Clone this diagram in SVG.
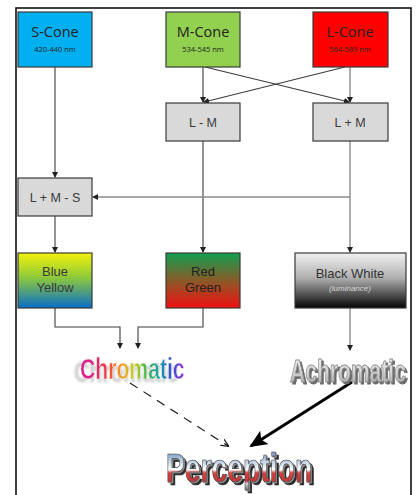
<svg xmlns="http://www.w3.org/2000/svg" width="416" height="495" viewBox="0 0 416 495">
<style>
.box{stroke:#3a3a3a;stroke-width:1.2}
.cone{font-family:"Open Sans","Noto Sans",sans-serif;font-size:14.5px;fill:#222;text-anchor:middle}
.nm{font-family:"Open Sans","Noto Sans",sans-serif;font-size:7.5px;fill:#222;text-anchor:middle}
.lbl{font-family:"Liberation Sans",Arial,sans-serif;font-size:12.5px;fill:#3a3a3a;text-anchor:middle}
.ln{fill:none;stroke:#3c3c3c;stroke-width:1.1}
.lg{fill:none;stroke:#8a8a8a;stroke-width:1.4}
.big{font-family:"Liberation Sans",Arial,sans-serif;font-weight:bold}
</style>
<defs>
<marker id="ah" markerWidth="6" markerHeight="6" refX="5" refY="3" orient="auto" markerUnits="userSpaceOnUse"><path d="M0,0 L6,3 L0,6 z" fill="#222"/></marker>
<marker id="ahd" markerWidth="8" markerHeight="8" refX="7" refY="4" orient="auto" markerUnits="userSpaceOnUse"><path d="M0,0.5 L8,4 L0,7.5" fill="none" stroke="#111" stroke-width="1.2"/></marker>
<marker id="aht" markerWidth="18" markerHeight="16" refX="16" refY="8" orient="auto" markerUnits="userSpaceOnUse"><path d="M0,0 L18,8 L0,16 L4,8 z" fill="#000"/></marker>
<linearGradient id="gBY" x1="0" y1="0" x2="0" y2="1"><stop offset="0" stop-color="#f2f20a"/><stop offset="0.45" stop-color="#8cc83c"/><stop offset="1" stop-color="#0a6ec8"/></linearGradient>
<linearGradient id="gRG" x1="0" y1="0" x2="0" y2="1"><stop offset="0" stop-color="#10a050"/><stop offset="0.5" stop-color="#8a5a28"/><stop offset="1" stop-color="#f01010"/></linearGradient>
<linearGradient id="gBW" x1="0" y1="0" x2="0" y2="1"><stop offset="0" stop-color="#f2f2f2"/><stop offset="0.45" stop-color="#b0b0b0"/><stop offset="1" stop-color="#050505"/></linearGradient>
<linearGradient id="gAch" x1="0" y1="0" x2="0" y2="1"><stop offset="0" stop-color="#f4f4f4"/><stop offset="0.5" stop-color="#d8d8d8"/><stop offset="1" stop-color="#9a9a9a"/></linearGradient>
<linearGradient id="gChr" x1="0" y1="0" x2="1" y2="0">
<stop offset="0" stop-color="#d81e9a"/><stop offset="0.14" stop-color="#e0247a"/><stop offset="0.26" stop-color="#ee3b3b"/><stop offset="0.38" stop-color="#f7941d"/><stop offset="0.52" stop-color="#c8d21e"/><stop offset="0.64" stop-color="#3cb44a"/><stop offset="0.76" stop-color="#1aa3a3"/><stop offset="0.86" stop-color="#2d55d8"/><stop offset="1" stop-color="#9a2bd8"/>
</linearGradient>
<linearGradient id="gPer" x1="0" y1="0" x2="0" y2="1"><stop offset="0" stop-color="#3e64a8"/><stop offset="0.3" stop-color="#a9bfdc"/><stop offset="0.55" stop-color="#ffffff"/><stop offset="0.62" stop-color="#d84040"/><stop offset="0.8" stop-color="#c03838"/><stop offset="0.85" stop-color="#d0d0d0"/><stop offset="1" stop-color="#707070"/></linearGradient>
<filter id="fChr" x="-20%" y="-20%" width="140%" height="160%">
<feOffset in="SourceAlpha" dx="-6" dy="3" result="o"/>
<feGaussianBlur in="o" stdDeviation="0.8" result="b"/>
<feFlood flood-color="#d0d0d0"/>
<feComposite in2="b" operator="in" result="s"/>
<feMerge><feMergeNode in="s"/><feMergeNode in="SourceGraphic"/></feMerge>
</filter>
<filter id="fAch" x="-10%" y="-20%" width="120%" height="150%">
<feOffset in="SourceAlpha" dx="1.5" dy="1.5" result="o"/>
<feFlood flood-color="#6a6a6a"/>
<feComposite in2="o" operator="in" result="s"/>
<feMerge><feMergeNode in="s"/><feMergeNode in="SourceGraphic"/></feMerge>
</filter>
<filter id="fPer" x="-10%" y="-20%" width="120%" height="150%">
<feOffset in="SourceAlpha" dx="2.5" dy="2.5" result="o2"/>
<feFlood flood-color="#2a2a2a"/>
<feComposite in2="o2" operator="in" result="s2"/>
<feOffset in="SourceAlpha" dx="1.2" dy="1.2" result="o1"/>
<feFlood flood-color="#909090"/>
<feComposite in2="o1" operator="in" result="s1"/>
<feMerge><feMergeNode in="s2"/><feMergeNode in="s1"/><feMergeNode in="SourceGraphic"/></feMerge>
</filter>
</defs>
<rect x="16" y="8" width="395" height="495" fill="#fff" stroke="#111" stroke-width="1.6"/>

<g id="connectors">
<line class="ln" x1="55" y1="67" x2="55" y2="177" marker-end="url(#ah)"/>
<line class="ln" x1="203" y1="67" x2="203" y2="102" marker-end="url(#ah)"/>
<line class="ln" x1="205" y1="67" x2="349" y2="102" marker-end="url(#ah)"/>
<line class="ln" x1="345" y1="67" x2="204" y2="102" marker-end="url(#ah)"/>
<line class="lg" x1="350" y1="67" x2="350" y2="102" marker-end="url(#ah)"/>
<line class="ln" x1="203" y1="141" x2="203" y2="252" marker-end="url(#ah)"/>
<line class="lg" x1="350" y1="141" x2="350" y2="252" marker-end="url(#ah)"/>
<line class="lg" x1="350" y1="197" x2="93" y2="197" marker-end="url(#ah)"/>
<line class="ln" x1="55" y1="216" x2="55" y2="252" marker-end="url(#ah)"/>
<polyline class="ln" points="55,308 55,327 120,327 120,348" marker-end="url(#ah)"/>
<polyline class="ln" points="203,308 203,327 138,327 138,348" marker-end="url(#ah)"/>
<line class="lg" x1="350" y1="308" x2="350" y2="350" marker-end="url(#ah)"/>
<line x1="130" y1="383" x2="228" y2="446" stroke="#111" stroke-width="1.1" stroke-dasharray="9,7" marker-end="url(#ahd)"/>
<line x1="352" y1="382" x2="251" y2="446" stroke="#000" stroke-width="3" marker-end="url(#aht)"/>
</g>

<g id="s-cone"><rect class="box" x="18" y="12" width="74" height="55" fill="#00b0f0"/><text class="cone" x="55" y="37">S-Cone</text><text class="nm" x="55" y="52">420-440 nm</text></g>
<g id="m-cone"><rect class="box" x="166" y="12" width="74" height="55" fill="#92d050"/><text class="cone" x="203" y="37">M-Cone</text><text class="nm" x="203" y="52">534-545 nm</text></g>
<g id="l-cone"><rect class="box" x="313" y="12" width="75" height="55" fill="#ff0000"/><text class="cone" x="350" y="37">L-Cone</text><text class="nm" x="350" y="52">564-589 nm</text></g>

<g id="l-minus-m"><rect class="box" x="166" y="103" width="74" height="38" fill="#d9d9d9"/><text class="lbl" x="203" y="127">L - M</text></g>
<g id="l-plus-m"><rect class="box" x="313" y="103" width="75" height="38" fill="#d9d9d9"/><text class="lbl" x="350" y="127">L + M</text></g>
<g id="l-plus-m-minus-s"><rect class="box" x="18" y="178" width="74" height="38" fill="#d9d9d9"/><text class="lbl" x="55" y="202">L + M - S</text></g>

<g id="blue-yellow"><rect class="box" x="18" y="253" width="74" height="55" fill="url(#gBY)"/><text class="lbl" x="55" y="276" style="font-size:13px">Blue</text><text class="lbl" x="55" y="292" style="font-size:13px">Yellow</text></g>
<g id="red-green"><rect class="box" x="166" y="253" width="74" height="55" fill="url(#gRG)"/><text class="lbl" x="203" y="276" style="fill:#222;font-size:13px">Red</text><text class="lbl" x="203" y="292" style="fill:#222;font-size:13px">Green</text></g>
<g id="black-white"><rect class="box" x="295" y="253" width="111" height="55" fill="url(#gBW)"/><text class="lbl" x="350" y="278" style="fill:#333;font-size:13px">Black White</text><text x="350" y="291" text-anchor="middle" font-family="Liberation Sans, Arial, sans-serif" font-size="8" font-style="italic" fill="#d8d8d8">(luminance)</text></g>

<g id="chromatic" filter="url(#fChr)">
<text class="big" transform="translate(80,379) scale(0.73,1)" x="0" y="0" font-size="29" fill="url(#gChr)" stroke="#eeeeee" stroke-width="0.6">Chromatic</text>
</g>

<g id="achromatic" filter="url(#fAch)">
<text class="big" transform="translate(290,382) scale(0.68,1)" x="0" y="0" font-size="31" fill="url(#gAch)" stroke="#8a8a8a" stroke-width="0.9">Achromatic</text>
</g>

<g id="perception" filter="url(#fPer)">
<text class="big" transform="translate(166,482) scale(0.69,1)" x="0" y="0" font-size="41" fill="url(#gPer)" stroke="#3a3a3a" stroke-width="0.7">Perception</text>
</g>
</svg>
